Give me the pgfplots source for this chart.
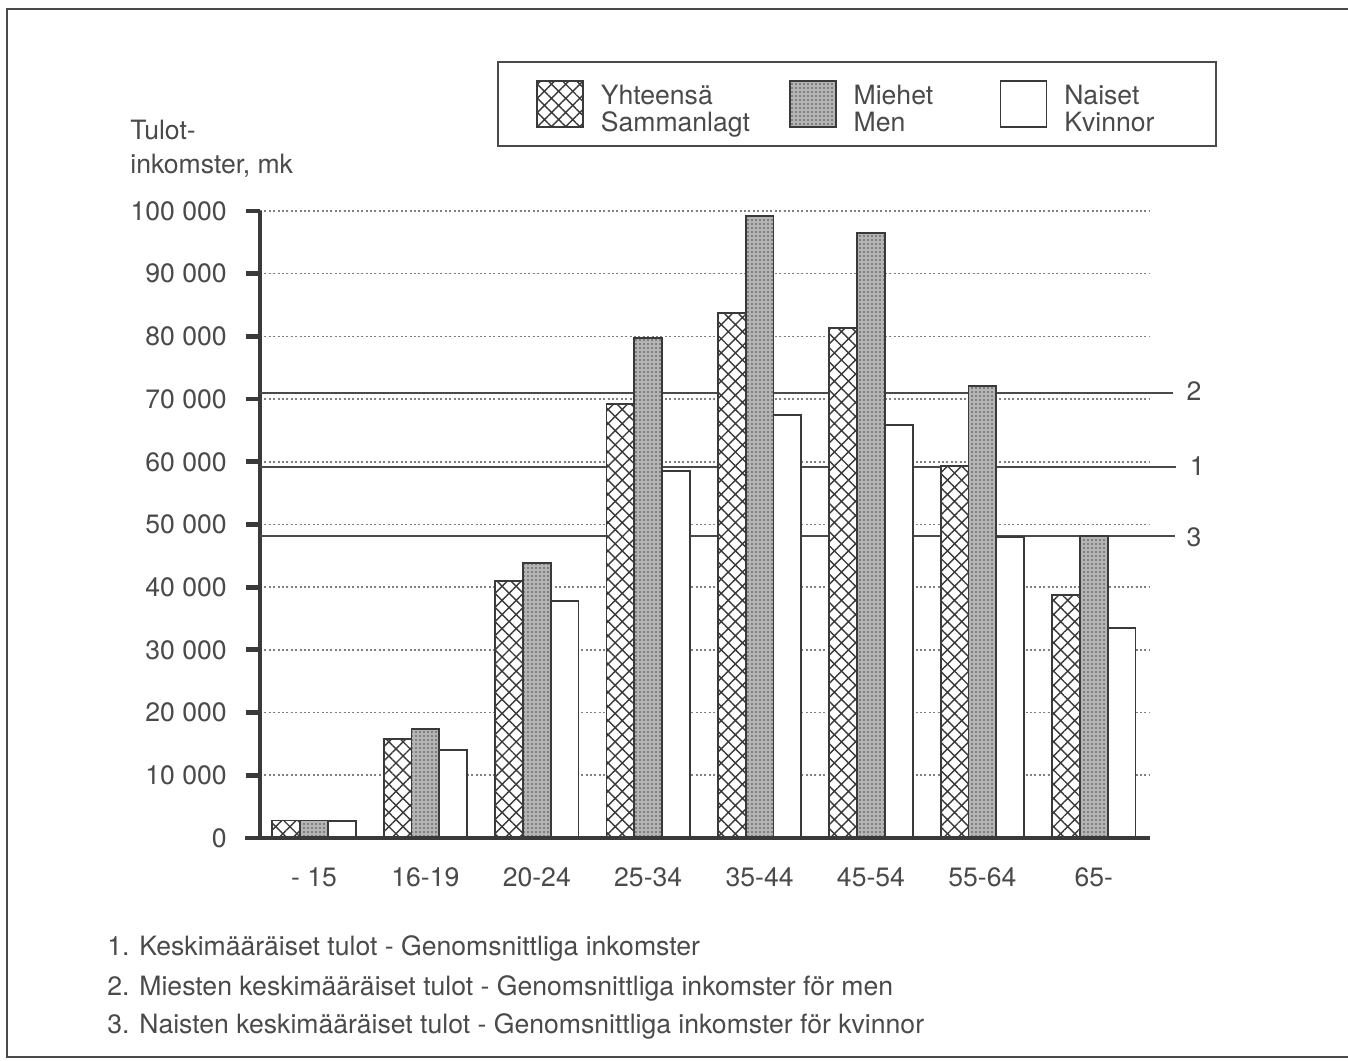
\documentclass[border=0pt]{standalone}
\usepackage{fontspec}
\setmainfont{TeX Gyre Heros}
\usepackage{pgfplots}
\pgfplotsset{compat=1.18}
\usetikzlibrary{patterns.meta}
\definecolor{ink}{HTML}{4A4A4A}
\definecolor{barline}{HTML}{3A3A3A}
\definecolor{mgray}{HTML}{B4B4B4}
\pgfplotsset{
  sqlegend/.style={legend image code/.code={\draw[##1] (0pt,-11.5pt) rectangle (23pt,11.5pt);}},
}
\begin{document}
\fontsize{13.3}{16}\selectfont
\begin{tikzpicture}
\useasboundingbox (0,0) rectangle (674pt,530pt);
\draw[ink, line width=1pt] (674pt,525.5pt) -- (3.5pt,525.5pt) -- (3.5pt,1.5pt) -- (674pt,1.5pt);
\node[anchor=base west, text=ink, inner sep=0pt] at (65pt,460pt) {Tulot-};
\node[anchor=base west, text=ink, inner sep=0pt] at (65pt,443pt) {inkomster, mk};
\node[anchor=base west, text=ink, inner sep=0pt] at (53.5pt,52.5pt) {1. Keskimääräiset tulot - Genomsnittliga inkomster};
\node[anchor=base west, text=ink, inner sep=0pt] at (53.5pt,32.5pt) {2. Miesten keskimääräiset tulot - Genomsnittliga inkomster för men};
\node[anchor=base west, text=ink, inner sep=0pt] at (53.5pt,13.5pt) {3. Naisten keskimääräiset tulot - Genomsnittliga inkomster för kvinnor};
\begin{axis}[
  at={(130pt,111pt)}, anchor=south west,
  scale only axis, width=445pt, height=313.5pt,
  xmin=-0.485, xmax=7.505, ymin=0, ymax=100000,
  clip=false,
  scaled y ticks=false,
  axis lines*=left,
  x axis line style={draw=none},
  y axis line style={line width=2.4pt, barline, -},
  xtick={0,...,7},
  xticklabels={- 15,16-19,20-24,25-34,35-44,45-54,55-64,65-},
  xtick style={draw=none},
  xticklabel style={text=ink, yshift=-3pt},
  ytick={0,10000,...,100000},
  yticklabels={0,10 000,20 000,30 000,40 000,50 000,60 000,70 000,80 000,90 000,100 000},
  ytick style={line width=2.4pt, barline},
  tick align=outside,
  major tick length=7pt,
  yticklabel style={text=ink, xshift=-5pt},
  ymajorgrids,
  grid style={dash pattern=on 1pt off 1.2pt, line width=0.8pt, gray},
  legend columns=3,
  legend style={at={(0.2663,1.2392)}, anchor=north west, draw=ink, line width=1pt,
    inner xsep=19pt, inner ysep=9pt, nodes={inner sep=0pt, text=ink},
    /tikz/every odd column/.style={column sep=8.5pt},
    /tikz/every even column/.style={column sep=14pt}},
  legend cell align=left,
]
% reference lines (average incomes)
\addplot[forget plot, ink, line width=1pt] coordinates {(-0.485,71000) (7.71,71000)};
\addplot[forget plot, ink, line width=1pt] coordinates {(-0.485,59200) (7.74,59200)};
\addplot[forget plot, ink, line width=1pt] coordinates {(-0.485,48200) (7.73,48200)};
\node[text=ink, anchor=west, inner sep=0pt] at (axis cs:7.83,71300) {2};
\node[text=ink, anchor=west, inner sep=0pt] at (axis cs:7.86,59300) {1};
\node[text=ink, anchor=west, inner sep=0pt] at (axis cs:7.83,48000) {3};

\addplot[ybar, bar width=0.25, bar shift=-0.25, draw=barline, line width=0.9pt, fill=white,
  postaction={pattern={Hatch[angle=45,distance=5pt,line width=0.7pt]}, pattern color=barline}, sqlegend]
  coordinates {(0,2800) (1,15800) (2,41000) (3,69200) (4,83700) (5,81300) (6,59300) (7,38800)};
\addlegendentry{\makebox[80pt][l]{\fontsize{13.3}{12.5}\selectfont\begin{tabular}[c]{@{}l@{}}Yhteensä\\Sammanlagt\end{tabular}}}
\addplot[ybar, bar width=0.25, bar shift=0, draw=barline, line width=0.9pt, fill=mgray,
  postaction={pattern={Dots[distance=2pt,radius=0.45pt]}, pattern color=gray!60!black}, sqlegend]
  coordinates {(0,2800) (1,17400) (2,43900) (3,79700) (4,99200) (5,96500) (6,72100) (7,48200)};
\addlegendentry{\makebox[59pt][l]{\fontsize{13.3}{12.5}\selectfont\begin{tabular}[c]{@{}l@{}}Miehet\\Men\end{tabular}}}
\addplot[ybar, bar width=0.25, bar shift=0.25, draw=barline, line width=0.9pt, fill=white, sqlegend]
  coordinates {(0,2700) (1,14000) (2,37800) (3,58500) (4,67500) (5,65900) (6,48000) (7,33500)};
\addlegendentry{\makebox[57pt][l]{\fontsize{13.3}{12.5}\selectfont\begin{tabular}[c]{@{}l@{}}Naiset\\Kvinnor\end{tabular}}}

\draw[barline, line width=2.4pt] ([xshift=-7.5pt]axis cs:-0.485,0) -- (axis cs:7.505,0);
\end{axis}
\end{tikzpicture}
\end{document}
